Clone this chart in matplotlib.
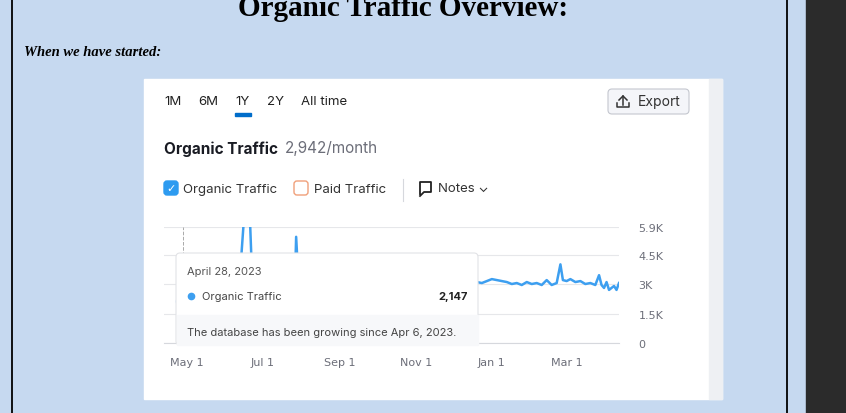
import matplotlib
matplotlib.use("Agg")
import matplotlib.pyplot as plt
import matplotlib.dates as mdates
from matplotlib.patches import FancyBboxPatch, Rectangle
import numpy as np

dates = ["2023-04-28","2023-05-05","2023-05-12","2023-05-19","2023-05-26","2023-06-02","2023-06-09",
         "2023-06-13","2023-06-14","2023-06-16","2023-06-19","2023-06-21","2023-06-22","2023-06-26",
         "2023-07-03","2023-07-10","2023-07-17","2023-07-24","2023-07-27","2023-07-28","2023-07-30","2023-08-02",
         "2023-08-09","2023-08-16","2023-08-23","2023-08-30","2023-09-06","2023-09-13","2023-09-20","2023-09-27",
         "2023-10-04","2023-10-11","2023-10-18","2023-10-25","2023-11-01","2023-11-08","2023-11-15","2023-11-22",
         "2023-11-29","2023-12-04","2023-12-08","2023-12-12","2023-12-16","2023-12-20","2023-12-24","2023-12-28",
         "2024-01-01","2024-01-05","2024-01-09","2024-01-13","2024-01-17","2024-01-21","2024-01-25","2024-01-29",
         "2024-02-02","2024-02-06","2024-02-10","2024-02-14","2024-02-18","2024-02-22","2024-02-25","2024-02-27",
         "2024-03-01","2024-03-04","2024-03-08","2024-03-12","2024-03-16","2024-03-20","2024-03-24","2024-03-27",
         "2024-03-29","2024-03-31","2024-04-02","2024-04-04","2024-04-06","2024-04-08","2024-04-10","2024-04-12"]
values = [2147,2300,2400,2500,2600,2650,2700,
          2900,4400,6200,6200,6200,4500,2800,
          2800,2850,2900,2950,3000,5400,3000,2900,
          2850,2900,2950,2900,2950,3000,2950,3000,
          3000,3050,3000,2950,3000,3050,3000,2950,
          3000,3000,2950,3050,3000,3100,3050,3150,
          3250,3200,3150,3100,3000,3050,2950,3100,
          3000,3050,2950,3200,2950,3050,4000,3200,
          3150,3250,3100,3150,3000,3050,2950,3450,
          2950,2800,3100,2700,2800,2900,2700,3050]
y_ticks = [0, 1500, 3000, 4500, 5900]
y_labels = ["0", "1.5K", "3K", "4.5K", "5.9K"]
x_ticks = ["2023-05-01","2023-07-01","2023-09-01","2023-11-01","2024-01-01","2024-03-01"]
x_labels = ["May 1","Jul 1","Sep 1","Nov 1","Jan 1","Mar 1"]

W, H = 846, 414
fig = plt.figure(figsize=(W/100, H/100), dpi=100)
bg = fig.add_axes([0, 0, 1, 1])
bg.set_xlim(0, W); bg.set_ylim(H, 0); bg.axis("off")
bg.add_patch(Rectangle((0, 0), W, H, color="#c6d9f0", zorder=0))
bg.add_patch(Rectangle((806, 0), 40, H, color="#2b2b2b", zorder=1))
bg.plot([12, 12], [0, H], color="black", lw=1.3)
bg.plot([787, 787], [0, H], color="black", lw=1.3)
bg.text(403, 9, "Organic Traffic Overview:", ha="center", va="center", fontsize=21,
        fontweight="bold", family="Liberation Serif", color="black")
bg.text(24, 53, "When we have started:", ha="left", va="center", fontsize=10.5,
        fontweight="bold", style="italic", family="Liberation Serif", color="black")
bg.add_patch(Rectangle((144, 80), 578, 320, color="white", zorder=1))
bg.add_patch(Rectangle((709, 80), 13, 320, color="#eef0f3", zorder=1))
f = "Inter"
for x, t in [(164, "1M"), (198, "6M"), (235, "1Y"), (267, "2Y"), (301, "All time")]:
    bg.text(x, 102, t, fontsize=9.5, family=f, va="center", color="#222", zorder=2)
bg.add_patch(Rectangle((235, 114), 16, 3, color="#006dca", zorder=2))
bg.add_patch(FancyBboxPatch((608, 90), 81, 25, boxstyle="round,pad=0,rounding_size=4",
                            fc="#f4f5f9", ec="#c4c7cf", lw=0.8, zorder=2))
# export icon
bg.plot([619, 623, 627], [101, 97, 101], color="#333", lw=1.1, zorder=3)
bg.plot([623, 623], [97, 106], color="#333", lw=1.1, zorder=3)
bg.plot([617, 617, 629, 629], [104, 108, 108, 104], color="#333", lw=1.1, zorder=3)
bg.text(638, 102, "Export", fontsize=10, family=f, va="center", color="#333", zorder=3)
bg.text(164, 149, "Organic Traffic", fontsize=11, fontweight="bold", family=f, va="center", color="#191b23", zorder=2)
bg.text(285, 149, "2,942/month", fontsize=11, family=f, va="center", color="#6c6e79", zorder=2)
bg.add_patch(FancyBboxPatch((164, 182), 14, 14, boxstyle="round,pad=0,rounding_size=3",
                            fc="#2d9bf0", ec="#2d9bf0", zorder=2))
bg.text(171, 189.5, "✓", fontsize=8, color="white", ha="center", va="center", family="DejaVu Sans", zorder=3)
bg.text(183, 190, "Organic Traffic", fontsize=9.5, family=f, va="center", color="#333", zorder=2)
bg.add_patch(FancyBboxPatch((294, 182), 14, 14, boxstyle="round,pad=0,rounding_size=3",
                            fc="white", ec="#f0a07a", lw=1, zorder=2))
bg.text(314, 190, "Paid Traffic", fontsize=9.5, family=f, va="center", color="#333", zorder=2)
bg.plot([403, 403], [180, 202], color="#d6d8dd", lw=0.8, zorder=2)
# notes icon
bg.plot([420, 420, 431, 431, 424, 420], [195, 183, 183, 193, 193, 197], color="#222", lw=1.3, zorder=2)
bg.text(438, 189, "Notes ⌄", fontsize=9.5, family=["Inter", "DejaVu Sans"], va="center", color="#333", zorder=2)

ax = fig.add_axes([164/W, (H-344)/H, 455/W, 116/H], zorder=3)
ax.set_facecolor("white")
d = mdates.datestr2num(dates)
ax.plot(d, values, color="#3d9ff0", lw=1.8, clip_on=True)
ax.set_xlim(mdates.datestr2num("2023-04-13"), mdates.datestr2num("2024-04-12"))
ax.set_ylim(0, 5900)
ax.set_yticks(y_ticks)
ax.set_yticklabels(y_labels)
ax.yaxis.tick_right()
ax.set_xticks(mdates.datestr2num(x_ticks))
ax.set_xticklabels(x_labels)
ax.tick_params(length=0, labelsize=8, colors="#6c6e79", pad=10)
ax.tick_params(axis="y", pad=14)
ax.grid(axis="y", color="#e6e7ea", lw=0.8)
ax.axvline(mdates.datestr2num("2023-04-28"), color="#aaa", ls="--", lw=0.7)
for s in ["top", "right", "left"]:
    ax.spines[s].set_visible(False)
ax.spines["bottom"].set_color("#d6d8dd")
ax.plot(d[0], values[0], "o", ms=10, color="#3d9ff0", clip_on=False, zorder=5)

ov = fig.add_axes([0, 0, 1, 1], zorder=5)
ov.set_xlim(0, W); ov.set_ylim(H, 0); ov.axis("off")
ov.add_patch(FancyBboxPatch((176, 254), 302, 92, boxstyle="round,pad=0,rounding_size=4",
                            fc="white", ec="#e2e3e6", lw=0.8))
ov.add_patch(Rectangle((176.5, 316), 301, 29.5, color="#f7f8fa"))
ov.text(187, 272, "April 28, 2023", fontsize=8, family=f, va="center", color="#555")
ov.plot(191, 297, "o", ms=4.5, color="#3d9ff0")
ov.text(202, 297, "Organic Traffic", fontsize=8, family=f, va="center", color="#444")
ov.text(468, 297, "2,147", fontsize=8, family=f, fontweight="bold", va="center", ha="right", color="#222")
ov.text(187, 333, "The database has been growing since Apr 6, 2023.", fontsize=8, family=f, va="center", color="#444")

fig.savefig("out.png", dpi=100)
